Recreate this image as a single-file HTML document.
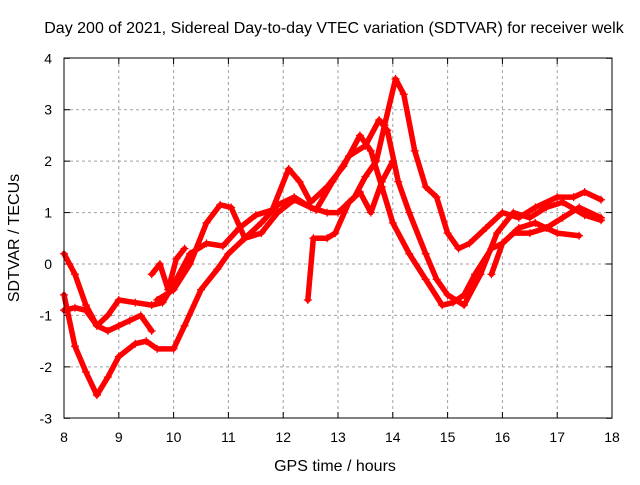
<!DOCTYPE html>
<html><head><meta charset="utf-8"><style>
body{margin:0;background:#fff;}
svg text{font-family:"Liberation Sans",sans-serif;font-size:14px;fill:#000;}
svg text.big{font-size:16px;}
</style></head><body>
<svg id="chart" width="640" height="480">
<text class="big" x="334" y="33" text-anchor="middle">Day 200 of 2021, Sidereal Day-to-day VTEC variation (SDTVAR) for receiver welk</text>
<g id="grid"></g>
<g id="axes"></g>
<g id="series"></g>
<rect x="64" y="58" width="548" height="360" fill="none" stroke="#000" stroke-width="1"/>
<text class="big" x="335" y="471" text-anchor="middle">GPS time / hours</text>
<text class="big" transform="translate(19,238) rotate(-90)" text-anchor="middle">SDTVAR / TECUs</text>
</svg>
<script>
const xTicks=[8,9,10,11,12,13,14,15,16,17,18];
const yTicks=[-3,-2,-1,0,1,2,3,4];
const s1h=[8.0,8.2,8.4,8.6,8.8,9.0,9.3,9.5,9.7,10.0,10.2,10.5,10.8,11.0,11.3,11.6,11.9,12.2,12.5,12.8,13.0,13.3,13.5,13.7,13.85,14.05,14.2,14.4,14.6,14.8,15.0,15.2,15.4,15.7,16.0,16.3,16.6,17.0,17.3,17.5,17.8];
const s1v=[-0.6,-1.6,-2.1,-2.55,-2.2,-1.8,-1.55,-1.5,-1.65,-1.65,-1.2,-0.5,-0.1,0.2,0.5,0.8,1.15,1.3,1.1,1.0,1.0,1.3,1.7,2.0,2.7,3.6,3.3,2.2,1.5,1.3,0.6,0.3,0.4,0.7,1.0,0.9,1.1,1.3,1.3,1.4,1.25];
const s2h=[8.0,8.2,8.4,8.6,8.8,9.0,9.3,9.6,9.8,10.0,10.3,10.6,10.9,11.2,11.5,11.8,12.1,12.3,12.5,12.8,13.1,13.4,13.6,13.8,14.0,14.3,14.6,14.9,15.1,15.3,15.5,15.8,16.0,16.2,16.5,16.8,17.1,17.4,17.8];
const s2v=[-0.9,-0.85,-0.9,-1.2,-1.0,-0.7,-0.75,-0.8,-0.75,-0.4,0.2,0.4,0.35,0.7,0.95,1.05,1.85,1.6,1.2,1.5,1.9,2.5,2.2,1.5,0.8,0.2,-0.3,-0.8,-0.75,-0.6,-0.2,0.3,0.4,0.6,0.6,0.7,0.9,1.1,0.9];
const s3h=[8.0,8.1,8.2,8.4,8.6,8.8,9.0,9.2,9.4,9.6];
const s3v=[0.2,0.0,-0.2,-0.8,-1.2,-1.3,-1.2,-1.1,-1.0,-1.3];
const s4h=[9.7,10.0,10.3,10.6,10.85,11.05,11.3,11.6,11.9,12.2,12.6,12.9,13.2,13.5,13.75,13.9,14.1,14.3,14.6,14.8,15.0,15.3,15.6,15.9,16.2,16.5,16.8,17.1,17.5,17.8];
const s4v=[-0.7,-0.5,0.0,0.8,1.15,1.1,0.5,0.6,1.0,1.25,1.05,1.6,2.1,2.3,2.8,2.6,1.6,1.0,0.2,-0.3,-0.6,-0.8,-0.2,0.6,1.0,0.9,1.1,1.2,0.95,0.85];
const s5h=[12.45,12.55,12.8,12.95,13.2,13.4,13.6,13.8,14.0];
const s5v=[-0.7,0.5,0.5,0.6,1.2,1.4,1.0,1.6,2.0];
const s6h=[15.8,16.0,16.3,16.6,17.0,17.4];
const s6v=[-0.2,0.4,0.7,0.8,0.6,0.55];
const s7h=[9.6,9.75,9.9,10.05,10.2];
const s7v=[-0.2,0.0,-0.5,0.1,0.3];
const NS="http://www.w3.org/2000/svg";
const X=h=>64+(h-8)*54.8, Y=v=>264-v*360/7;
const grid=document.getElementById('grid'),axes=document.getElementById('axes'),ser=document.getElementById('series');
function mk(t,a,p){const e=document.createElementNS(NS,t);for(const k in a)e.setAttribute(k,a[k]);p.appendChild(e);return e;}
xTicks.forEach(h=>{
 if(h>8&&h<18){const g=mk('line',{x1:X(h),x2:X(h),y1:58,y2:418,stroke:'#a0a0a0','stroke-dasharray':'3,3'},grid);
 
 }
 mk('line',{x1:X(h),x2:X(h),y1:418,y2:412,stroke:'#000'},axes);
 mk('line',{x1:X(h),x2:X(h),y1:58,y2:64,stroke:'#000'},axes);
 const t=mk('text',{x:X(h),y:442,'text-anchor':'middle'},axes);t.textContent=h;
 
 
});
yTicks.forEach(v=>{
 if(v>-3&&v<4){const g=mk('line',{x1:64,x2:612,y1:Y(v),y2:Y(v),stroke:'#a0a0a0','stroke-dasharray':'3,3'},grid);
 
 }
 mk('line',{x1:64,x2:70,y1:Y(v),y2:Y(v),stroke:'#000'},axes);
 mk('line',{x1:606,x2:612,y1:Y(v),y2:Y(v),stroke:'#000'},axes);
 const t=mk('text',{x:52,y:Y(v)+5,'text-anchor':'end'},axes);t.textContent=v;
 
 
});
[[s1h,s1v],[s2h,s2v],[s3h,s3v],[s4h,s4v],[s5h,s5v],[s6h,s6v],[s7h,s7v]].forEach((s,i)=>{
 const pts=s[0].map((h,j)=>X(h)+','+Y(s[1][j])).join(' ');
 const pl=mk('polyline',{points:pts,fill:'none',stroke:'#ff0000','stroke-width':5.5,'stroke-linejoin':'round','stroke-linecap':'round'},ser);
 
 
 s[0].forEach((h,j)=>{
  const x=X(h),y=Y(s[1][j]);
  mk('path',{d:`M${x-4},${y}H${x+4}M${x},${y-4}V${y+4}`,stroke:'#ff0000','stroke-width':1.2},ser);
 });
});
</script>
</body></html>
